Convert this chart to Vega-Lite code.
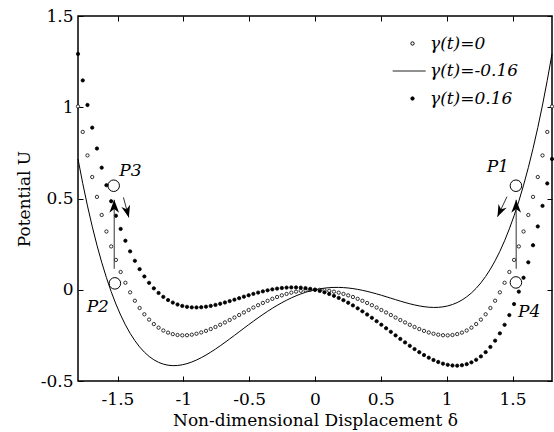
{
  "$schema": "https://vega.github.io/schema/vega-lite/v6.json",
  "width": 474,
  "height": 365,
  "autosize": {"type": "none"},
  "padding": {"left": 78, "top": 16, "right": 2, "bottom": 51},
  "background": "white",
  "datasets": {
    "curves": [
      {"d": -1.8, "g0": 1.0044, "gp": 1.2924, "gm": 0.7164},
      {"d": -1.764, "g0": 0.8648, "gp": 1.1471, "gm": 0.5826},
      {"d": -1.728, "g0": 0.736, "gp": 1.0125, "gm": 0.4596},
      {"d": -1.692, "g0": 0.6176, "gp": 0.8883, "gm": 0.3468},
      {"d": -1.656, "g0": 0.5089, "gp": 0.7739, "gm": 0.244},
      {"d": -1.62, "g0": 0.4097, "gp": 0.6689, "gm": 0.1505},
      {"d": -1.584, "g0": 0.3193, "gp": 0.5728, "gm": 0.0659},
      {"d": -1.548, "g0": 0.2374, "gp": 0.4851, "gm": -0.0103},
      {"d": -1.512, "g0": 0.1635, "gp": 0.4055, "gm": -0.0784},
      {"d": -1.476, "g0": 0.0973, "gp": 0.3334, "gm": -0.1389},
      {"d": -1.44, "g0": 0.0382, "gp": 0.2686, "gm": -0.1922},
      {"d": -1.404, "g0": -0.0142, "gp": 0.2105, "gm": -0.2388},
      {"d": -1.368, "g0": -0.0602, "gp": 0.1587, "gm": -0.279},
      {"d": -1.332, "g0": -0.1001, "gp": 0.113, "gm": -0.3133},
      {"d": -1.296, "g0": -0.1345, "gp": 0.0728, "gm": -0.3419},
      {"d": -1.26, "g0": -0.1637, "gp": 0.0379, "gm": -0.3653},
      {"d": -1.224, "g0": -0.188, "gp": 0.0079, "gm": -0.3838},
      {"d": -1.188, "g0": -0.2077, "gp": -0.0176, "gm": -0.3978},
      {"d": -1.152, "g0": -0.2233, "gp": -0.0389, "gm": -0.4076},
      {"d": -1.116, "g0": -0.2349, "gp": -0.0564, "gm": -0.4135},
      {"d": -1.08, "g0": -0.2431, "gp": -0.0703, "gm": -0.4159},
      {"d": -1.044, "g0": -0.248, "gp": -0.0809, "gm": -0.415},
      {"d": -1.008, "g0": -0.2499, "gp": -0.0887, "gm": -0.4112},
      {"d": -0.972, "g0": -0.2492, "gp": -0.0937, "gm": -0.4048},
      {"d": -0.936, "g0": -0.2462, "gp": -0.0964, "gm": -0.3959},
      {"d": -0.9, "g0": -0.241, "gp": -0.097, "gm": -0.385},
      {"d": -0.864, "g0": -0.2339, "gp": -0.0957, "gm": -0.3722},
      {"d": -0.828, "g0": -0.2253, "gp": -0.0928, "gm": -0.3578},
      {"d": -0.792, "g0": -0.2153, "gp": -0.0885, "gm": -0.342},
      {"d": -0.756, "g0": -0.2041, "gp": -0.0831, "gm": -0.3251},
      {"d": -0.72, "g0": -0.192, "gp": -0.0768, "gm": -0.3072},
      {"d": -0.684, "g0": -0.1792, "gp": -0.0698, "gm": -0.2886},
      {"d": -0.648, "g0": -0.1659, "gp": -0.0622, "gm": -0.2696},
      {"d": -0.612, "g0": -0.1522, "gp": -0.0543, "gm": -0.2501},
      {"d": -0.576, "g0": -0.1384, "gp": -0.0462, "gm": -0.2305},
      {"d": -0.54, "g0": -0.1245, "gp": -0.0381, "gm": -0.2109},
      {"d": -0.504, "g0": -0.1109, "gp": -0.0302, "gm": -0.1915},
      {"d": -0.468, "g0": -0.0975, "gp": -0.0226, "gm": -0.1724},
      {"d": -0.432, "g0": -0.0846, "gp": -0.0155, "gm": -0.1537},
      {"d": -0.396, "g0": -0.0723, "gp": -0.0089, "gm": -0.1356},
      {"d": -0.36, "g0": -0.0606, "gp": -0.003, "gm": -0.1182},
      {"d": -0.324, "g0": -0.0497, "gp": 0.0021, "gm": -0.1016},
      {"d": -0.288, "g0": -0.0398, "gp": 0.0063, "gm": -0.0858},
      {"d": -0.252, "g0": -0.0307, "gp": 0.0096, "gm": -0.0711},
      {"d": -0.216, "g0": -0.0228, "gp": 0.0118, "gm": -0.0573},
      {"d": -0.18, "g0": -0.0159, "gp": 0.0129, "gm": -0.0447},
      {"d": -0.144, "g0": -0.0103, "gp": 0.0128, "gm": -0.0333},
      {"d": -0.108, "g0": -0.0058, "gp": 0.0115, "gm": -0.0231},
      {"d": -0.072, "g0": -0.0026, "gp": 0.0089, "gm": -0.0141},
      {"d": -0.036, "g0": -0.0006, "gp": 0.0051, "gm": -0.0064},
      {"d": 0, "g0": 0, "gp": 0, "gm": 0},
      {"d": 0.036, "g0": -0.0006, "gp": -0.0064, "gm": 0.0051},
      {"d": 0.072, "g0": -0.0026, "gp": -0.0141, "gm": 0.0089},
      {"d": 0.108, "g0": -0.0058, "gp": -0.0231, "gm": 0.0115},
      {"d": 0.144, "g0": -0.0103, "gp": -0.0333, "gm": 0.0128},
      {"d": 0.18, "g0": -0.0159, "gp": -0.0447, "gm": 0.0129},
      {"d": 0.216, "g0": -0.0228, "gp": -0.0573, "gm": 0.0118},
      {"d": 0.252, "g0": -0.0307, "gp": -0.0711, "gm": 0.0096},
      {"d": 0.288, "g0": -0.0398, "gp": -0.0858, "gm": 0.0063},
      {"d": 0.324, "g0": -0.0497, "gp": -0.1016, "gm": 0.0021},
      {"d": 0.36, "g0": -0.0606, "gp": -0.1182, "gm": -0.003},
      {"d": 0.396, "g0": -0.0723, "gp": -0.1356, "gm": -0.0089},
      {"d": 0.432, "g0": -0.0846, "gp": -0.1537, "gm": -0.0155},
      {"d": 0.468, "g0": -0.0975, "gp": -0.1724, "gm": -0.0226},
      {"d": 0.504, "g0": -0.1109, "gp": -0.1915, "gm": -0.0302},
      {"d": 0.54, "g0": -0.1245, "gp": -0.2109, "gm": -0.0381},
      {"d": 0.576, "g0": -0.1384, "gp": -0.2305, "gm": -0.0462},
      {"d": 0.612, "g0": -0.1522, "gp": -0.2501, "gm": -0.0543},
      {"d": 0.648, "g0": -0.1659, "gp": -0.2696, "gm": -0.0622},
      {"d": 0.684, "g0": -0.1792, "gp": -0.2886, "gm": -0.0698},
      {"d": 0.72, "g0": -0.192, "gp": -0.3072, "gm": -0.0768},
      {"d": 0.756, "g0": -0.2041, "gp": -0.3251, "gm": -0.0831},
      {"d": 0.792, "g0": -0.2153, "gp": -0.342, "gm": -0.0885},
      {"d": 0.828, "g0": -0.2253, "gp": -0.3578, "gm": -0.0928},
      {"d": 0.864, "g0": -0.2339, "gp": -0.3722, "gm": -0.0957},
      {"d": 0.9, "g0": -0.241, "gp": -0.385, "gm": -0.097},
      {"d": 0.936, "g0": -0.2462, "gp": -0.3959, "gm": -0.0964},
      {"d": 0.972, "g0": -0.2492, "gp": -0.4048, "gm": -0.0937},
      {"d": 1.008, "g0": -0.2499, "gp": -0.4112, "gm": -0.0887},
      {"d": 1.044, "g0": -0.248, "gp": -0.415, "gm": -0.0809},
      {"d": 1.08, "g0": -0.2431, "gp": -0.4159, "gm": -0.0703},
      {"d": 1.116, "g0": -0.2349, "gp": -0.4135, "gm": -0.0564},
      {"d": 1.152, "g0": -0.2233, "gp": -0.4076, "gm": -0.0389},
      {"d": 1.188, "g0": -0.2077, "gp": -0.3978, "gm": -0.0176},
      {"d": 1.224, "g0": -0.188, "gp": -0.3838, "gm": 0.0079},
      {"d": 1.26, "g0": -0.1637, "gp": -0.3653, "gm": 0.0379},
      {"d": 1.296, "g0": -0.1345, "gp": -0.3419, "gm": 0.0728},
      {"d": 1.332, "g0": -0.1001, "gp": -0.3133, "gm": 0.113},
      {"d": 1.368, "g0": -0.0602, "gp": -0.279, "gm": 0.1587},
      {"d": 1.404, "g0": -0.0142, "gp": -0.2388, "gm": 0.2105},
      {"d": 1.44, "g0": 0.0382, "gp": -0.1922, "gm": 0.2686},
      {"d": 1.476, "g0": 0.0973, "gp": -0.1389, "gm": 0.3334},
      {"d": 1.512, "g0": 0.1635, "gp": -0.0784, "gm": 0.4055},
      {"d": 1.548, "g0": 0.2374, "gp": -0.0103, "gm": 0.4851},
      {"d": 1.584, "g0": 0.3193, "gp": 0.0659, "gm": 0.5728},
      {"d": 1.62, "g0": 0.4097, "gp": 0.1505, "gm": 0.6689},
      {"d": 1.656, "g0": 0.5089, "gp": 0.244, "gm": 0.7739},
      {"d": 1.692, "g0": 0.6176, "gp": 0.3468, "gm": 0.8883},
      {"d": 1.728, "g0": 0.736, "gp": 0.4596, "gm": 1.0125},
      {"d": 1.764, "g0": 0.8648, "gp": 0.5826, "gm": 1.1471},
      {"d": 1.8, "g0": 1.0044, "gp": 0.7164, "gm": 1.2924}
    ],
    "states": [
      {"x": 1.526, "y": 0.57, "label": "P1", "lx": 1.388, "ly": 0.674},
      {"x": -1.52, "y": 0.035, "label": "P2", "lx": -1.65, "ly": -0.097},
      {"x": -1.529, "y": 0.57, "label": "P3", "lx": -1.402, "ly": 0.652},
      {"x": 1.526, "y": 0.04, "label": "P4", "lx": 1.627, "ly": -0.124}
    ],
    "arrows": [
      {"kind": "up", "x": -1.525, "y": 0.115, "x2": -1.525, "y2": 0.493},
      {"kind": "up", "x": 1.528, "y": 0.115, "x2": 1.528, "y2": 0.493},
      {"kind": "left", "x": -1.455, "y": 0.506, "x2": -1.414, "y2": 0.396},
      {"kind": "right", "x": 1.458, "y": 0.51, "x2": 1.386, "y2": 0.4}
    ]
  },
  "layer": [
    {
      "data": {"name": "curves"},
      "mark": {"type": "line", "color": "black", "strokeWidth": 1},
      "encoding": {
        "x": {"field": "d", "type": "quantitative", "scale": {"domain": [-1.8, 1.8], "nice": false},
          "axis": {"orient": "bottom", "values": [-1.5, -1, -0.5, 0, 0.5, 1, 1.5], "labelExpr": "toString(datum.value)", "title": "Non-dimensional Displacement δ", "labelPadding": 15, "titlePadding": 5}},
        "y": {"field": "gm", "type": "quantitative", "scale": {"domain": [-0.5, 1.5], "nice": false},
          "axis": {"orient": "left", "values": [-0.5, 0, 0.5, 1, 1.5], "labelExpr": "toString(datum.value)", "title": "Potential U", "labelPadding": 10, "titlePadding": 7}}
      }
    },
    {
      "data": {"name": "curves"},
      "transform": [{"fold": ["g0", "gp"], "as": ["s", "u"]}],
      "mark": {"type": "point", "strokeWidth": 0.8, "opacity": 1},
      "encoding": {
        "x": {"field": "d", "type": "quantitative", "scale": {"domain": [-1.8, 1.8], "nice": false},
          "axis": {"orient": "top", "values": [-1.5, -1, -0.5, 0, 0.5, 1, 1.5], "labels": false, "title": null}},
        "y": {"field": "u", "type": "quantitative", "scale": {"domain": [-0.5, 1.5], "nice": false},
          "axis": {"orient": "right", "values": [-0.5, 0, 0.5, 1, 1.5], "labels": false, "title": null}},
        "fill": {"field": "s", "type": "nominal", "scale": {"domain": ["g0", "gm", "gp"], "range": ["white", "black", "black"]},
          "legend": {"title": null, "orient": "none", "legendX": 326, "legendY": 19, "padding": 0,
            "labelExpr": "datum.value == 'g0' ? 'γ(t)=0' : datum.value == 'gm' ? 'γ(t)=-0.16' : 'γ(t)=0.16'",
            "labelFont": "DejaVu Serif", "labelFontSize": 17, "labelFontStyle": "italic", "labelColor": "black",
            "symbolStrokeWidth": 1, "labelOffset": 9, "rowPadding": 9.5}},
        "stroke": {"field": "s", "type": "nominal", "scale": {"domain": ["g0", "gm", "gp"], "range": ["black", "#222222", "black"]},
          "legend": {"title": null, "orient": "none", "legendX": 326, "legendY": 19, "padding": 0,
            "labelExpr": "datum.value == 'g0' ? 'γ(t)=0' : datum.value == 'gm' ? 'γ(t)=-0.16' : 'γ(t)=0.16'",
            "labelFont": "DejaVu Serif", "labelFontSize": 17, "labelFontStyle": "italic", "labelColor": "black",
            "symbolStrokeWidth": 1, "labelOffset": 9, "rowPadding": 9.5}},
        "shape": {"field": "s", "type": "nominal", "scale": {"domain": ["g0", "gm", "gp"], "range": ["circle", "M-3.6,0H2.4", "circle"]},
          "legend": {"title": null, "orient": "none", "legendX": 326, "legendY": 19, "padding": 0,
            "labelExpr": "datum.value == 'g0' ? 'γ(t)=0' : datum.value == 'gm' ? 'γ(t)=-0.16' : 'γ(t)=0.16'",
            "labelFont": "DejaVu Serif", "labelFontSize": 17, "labelFontStyle": "italic", "labelColor": "black",
            "symbolStrokeWidth": 1, "labelOffset": 9, "rowPadding": 9.5}},
        "size": {"field": "s", "type": "nominal", "scale": {"type": "ordinal", "domain": ["g0", "gm", "gp"], "range": [11, 121, 11]},
          "legend": {"title": null, "orient": "none", "legendX": 326, "legendY": 19, "padding": 0,
            "labelExpr": "datum.value == 'g0' ? 'γ(t)=0' : datum.value == 'gm' ? 'γ(t)=-0.16' : 'γ(t)=0.16'",
            "labelFont": "DejaVu Serif", "labelFontSize": 17, "labelFontStyle": "italic", "labelColor": "black",
            "symbolStrokeWidth": 1, "labelOffset": 9, "rowPadding": 9.5}}
      }
    },
    {
      "data": {"name": "states"},
      "mark": {"type": "point", "shape": "circle", "size": 133, "stroke": "black", "strokeWidth": 1, "fill": null, "filled": false, "opacity": 1},
      "encoding": {
        "x": {"field": "x", "type": "quantitative", "scale": {"domain": [-1.8, 1.8], "nice": false}, "axis": null},
        "y": {"field": "y", "type": "quantitative", "scale": {"domain": [-0.5, 1.5], "nice": false}, "axis": null}
      }
    },
    {
      "data": {"name": "states"},
      "mark": {"type": "text", "font": "DejaVu Serif", "fontSize": 17, "fontStyle": "italic", "color": "black", "align": "center", "baseline": "middle"},
      "encoding": {
        "x": {"field": "lx", "type": "quantitative", "scale": {"domain": [-1.8, 1.8], "nice": false}, "axis": null},
        "y": {"field": "ly", "type": "quantitative", "scale": {"domain": [-0.5, 1.5], "nice": false}, "axis": null},
        "text": {"field": "label"}
      }
    },
    {
      "data": {"name": "arrows"},
      "mark": {"type": "rule", "color": "#333333", "strokeWidth": 1},
      "encoding": {
        "x": {"field": "x", "type": "quantitative", "scale": {"domain": [-1.8, 1.8], "nice": false}, "axis": null},
        "y": {"field": "y", "type": "quantitative", "scale": {"domain": [-0.5, 1.5], "nice": false}, "axis": null},
        "x2": {"field": "x2"},
        "y2": {"field": "y2"}
      }
    },
    {
      "data": {"name": "arrows"},
      "transform": [{"filter": "datum.kind == 'up'"}],
      "mark": {"type": "point", "shape": "M0,0L0.75,2L0,1.4L-0.75,2Z", "size": 169, "filled": true, "color": "black", "opacity": 1, "angle": 0},
      "encoding": {
        "x": {"field": "x2", "type": "quantitative", "scale": {"domain": [-1.8, 1.8], "nice": false}, "axis": null},
        "y": {"field": "y2", "type": "quantitative", "scale": {"domain": [-0.5, 1.5], "nice": false}, "axis": null}
      }
    },
    {
      "data": {"name": "arrows"},
      "transform": [{"filter": "datum.kind == 'left'"}],
      "mark": {"type": "point", "shape": "M0,0L0.75,2L0,1.4L-0.75,2Z", "size": 144, "filled": true, "color": "black", "opacity": 1, "angle": 165},
      "encoding": {
        "x": {"field": "x2", "type": "quantitative", "scale": {"domain": [-1.8, 1.8], "nice": false}, "axis": null},
        "y": {"field": "y2", "type": "quantitative", "scale": {"domain": [-0.5, 1.5], "nice": false}, "axis": null}
      }
    },
    {
      "data": {"name": "arrows"},
      "transform": [{"filter": "datum.kind == 'right'"}],
      "mark": {"type": "point", "shape": "M0,0L0.75,2L0,1.4L-0.75,2Z", "size": 144, "filled": true, "color": "black", "opacity": 1, "angle": 205},
      "encoding": {
        "x": {"field": "x2", "type": "quantitative", "scale": {"domain": [-1.8, 1.8], "nice": false}, "axis": null},
        "y": {"field": "y2", "type": "quantitative", "scale": {"domain": [-0.5, 1.5], "nice": false}, "axis": null}
      }
    }
  ],
  "resolve": {"axis": {"x": "independent", "y": "independent"}},
  "config": {
    "font": "DejaVu Serif",
    "view": {"stroke": "black", "strokeWidth": 1.5},
    "axis": {
      "labelFont": "DejaVu Serif", "labelFontSize": 17, "labelColor": "black",
      "titleFont": "DejaVu Serif", "titleFontSize": 17, "titleFontWeight": "normal", "titleColor": "black",
      "tickColor": "black", "tickSize": -5, "tickWidth": 1, "domain": false, "grid": false
    }
  }
}
